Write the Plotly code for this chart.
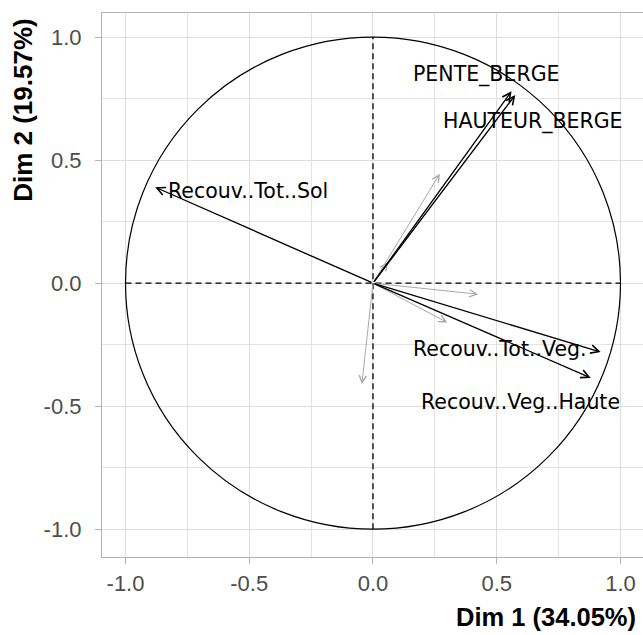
import plotly.graph_objects as go

# Variable coordinates (correlation circle)
var_names = ["PENTE_BERGE", "HAUTEUR_BERGE", "Recouv..Tot..Sol", "Recouv..Tot..Veg.", "Recouv..Veg..Haute"]
var_dim1 = [0.56, 0.575, -0.88, 0.92, 0.88]
var_dim2 = [0.78, 0.765, 0.39, -0.28, -0.385]

# Label positions (centre of text)
label_x = [0.457, 0.646, -0.505, 0.513, 0.598]
label_y = [0.85, 0.659, 0.374, -0.268, -0.484]

# Other (unlabelled, grey) variables
grey_dim1 = [0.27, 0.425, 0.30, -0.045, 0.06]
grey_dim2 = [0.445, -0.045, -0.16, -0.41, 0.085]

tick_vals = [-1.0, -0.5, 0.0, 0.5, 1.0]
tick_text = ["-1.0", "-0.5", "0.0", "0.5", "1.0"]

x_title = "Dim 1 (34.05%)"
y_title = "Dim 2 (19.57%)"

FONT = "Liberation Sans, Arial, sans-serif"
LABEL_FONT = "DejaVu Sans, sans-serif"

fig = go.Figure()
# invisible trace to set up axes
fig.add_trace(go.Scatter(x=[0], y=[0], mode="markers", marker=dict(opacity=0), showlegend=False, hoverinfo="skip"))

shapes = [
    dict(type="circle", xref="x", yref="y", x0=-1, y0=-1, x1=1, y1=1,
         line=dict(color="black", width=1.2), layer="above"),
    dict(type="line", xref="x", yref="y", x0=-1, y0=0, x1=1, y1=0,
         line=dict(color="black", width=1.3, dash="6px,4px"), layer="above"),
    dict(type="line", xref="x", yref="y", x0=0, y0=-1, x1=0, y1=1,
         line=dict(color="black", width=1.3, dash="6px,4px"), layer="above"),
]

annotations = []
for gx, gy in zip(grey_dim1, grey_dim2):
    annotations.append(dict(x=gx, y=gy, ax=0, ay=0, xref="x", yref="y", axref="x", ayref="y",
                            text="", showarrow=True, arrowhead=5, arrowsize=1.4, arrowwidth=1,
                            arrowcolor="#A8A8A8", standoff=0, startstandoff=0))
for vx, vy in zip(var_dim1, var_dim2):
    annotations.append(dict(x=vx, y=vy, ax=0, ay=0, xref="x", yref="y", axref="x", ayref="y",
                            text="", showarrow=True, arrowhead=5, arrowsize=1.2, arrowwidth=1.35,
                            arrowcolor="black", standoff=0, startstandoff=0))
for name, lx, ly in zip(var_names, label_x, label_y):
    annotations.append(dict(x=lx, y=ly, xref="x", yref="y", text=name, showarrow=False,
                            xanchor="center", yanchor="middle",
                            font=dict(family=LABEL_FONT, size=20.5, color="black")))

annotations.append(dict(x=0.99, y=-0.110, xref="paper", yref="paper", text="<b>" + x_title + "</b>",
                        showarrow=False, xanchor="right", yanchor="middle",
                        font=dict(family=FONT, size=25.5, color="black")))
annotations.append(dict(x=-0.146, y=0.822, xref="paper", yref="paper", text="<b>" + y_title + "</b>",
                        showarrow=False, xanchor="center", yanchor="middle", textangle=-90,
                        font=dict(family=FONT, size=26, color="black")))

axis_common = dict(
    tickvals=tick_vals, ticktext=tick_text,
    showgrid=True, gridcolor="#DEDEDE", gridwidth=1.2,
    minor=dict(tickvals=[-1.25, -0.75, -0.25, 0.25, 0.75, 1.25], showgrid=True,
               gridcolor="#E4E4E4", gridwidth=1, ticks=""),
    zeroline=False, showline=True, mirror=True, linecolor="#B3B3B3", linewidth=1.2,
    ticks="outside", ticklen=6, tickcolor="#B3B3B3", tickwidth=1.2,
    tickfont=dict(family=FONT, size=22, color="#4D4D4D"),
)

fig.update_layout(
    width=643, height=635,
    margin=dict(l=102, r=0, t=13, b=78),
    paper_bgcolor="white", plot_bgcolor="white",
    xaxis=dict(range=[-1.095, 1.091], **axis_common),
    yaxis=dict(range=[-1.113, 1.098], ticklabelstandoff=9, **axis_common),
    shapes=shapes, annotations=annotations,
    showlegend=False,
)

fig.write_html("out.html")
